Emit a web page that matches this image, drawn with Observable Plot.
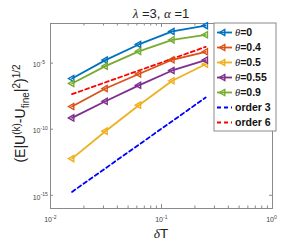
<!DOCTYPE html>
<html><head>
<meta charset="utf-8">
<script src="https://cdn.jsdelivr.net/npm/d3@7"></script>
<script src="https://cdn.jsdelivr.net/npm/@observablehq/plot@0.6"></script>
<style>body{margin:0;background:#fff;font-family:"Liberation Sans",Arial,sans-serif}</style>
</head><body><div id="chart"></div>
<script>
// ---- data ----
const dT = [1/64, 1/32, 1/16, 1/8, 1/4];
const theta0   = [6.9e-7, 1.7e-5, 2.6e-4, 2.5e-3, 6.8e-3];
const theta04  = [5.2e-9, 1.2e-7, 1.5e-6, 1.8e-5, 7.2e-5];
const theta05  = [6.0e-13, 7.1e-11, 6.6e-9, 4.6e-7, 8.3e-6];
const theta055 = [7.2e-10, 1.3e-8, 2.1e-7, 2.8e-6, 1.7e-5];
const theta09  = [2.9e-7, 5.9e-6, 7.8e-5, 5.8e-4, 1.4e-3];
const refDT = [1/64, 1/4];
const order3 = [1.8e-15, 2.5e-8];
const order6 = [4.5e-8, 1.7e-4];
const seriesNames = ["0", "0.4", "0.5", "0.55", "0.9"];
const refNames = ["order 3", "order 6"];
const xTicks = [0.01, 0.1, 1];
const xTickExp = ["-2", "-1", "0"];
const xMinor = [0.02,0.03,0.04,0.05,0.06,0.07,0.08,0.09,0.2,0.3,0.4,0.5,0.6,0.7,0.8,0.9];
const yTicks = [1e-15, 1e-10, 1e-5];
const yTickExp = ["-15", "-10", "-5"];

const colors = ["#0072BD", "#D95319", "#EDB120", "#7E2F8E", "#77AC30"];
const refColors = ["#0000FF", "#FF0000"];
const seriesVals = [theta0, theta04, theta05, theta055, theta09];

const rows = [];
seriesVals.forEach((vals, i) => vals.forEach((v, j) => rows.push({s: seriesNames[i], x: dT[j], y: v})));
const refRows = [];
[order3, order6].forEach((vals, i) => vals.forEach((v, j) => refRows.push({s: refNames[i], x: refDT[j], y: v})));

const W = 300, H = 245, mL = 50, mR = 28, mT = 23, mB = 37;
const FH = H - mT - mB, FW = W - mL - mR;
const axisColor = "#8a8a8a";
const R = 2.3;

const plot = Plot.plot({
  width: W, height: H,
  marginLeft: mL, marginRight: mR, marginTop: mT, marginBottom: mB,
  style: {fontFamily: "Liberation Sans, Arial, sans-serif", background: "#fff"},
  x: {type: "log", domain: [0.01, 1], axis: null},
  y: {type: "log", domain: [1e-16, 1e-2], axis: null},
  color: {domain: [...seriesNames, ...refNames], range: [...colors, ...refColors]},
  marks: [
    Plot.frame({stroke: axisColor, strokeWidth: 1}),
    // x ticks (inside, bottom and top)
    Plot.ruleX(xTicks, {x: d => d, insetTop: FH - 4, stroke: axisColor}),
    Plot.ruleX(xTicks, {x: d => d, insetBottom: FH - 4, stroke: axisColor}),
    Plot.ruleX(xMinor, {x: d => d, insetTop: FH - 2.5, stroke: axisColor}),
    Plot.ruleX(xMinor, {x: d => d, insetBottom: FH - 2.5, stroke: axisColor}),
    // y ticks (inside, left and right)
    Plot.ruleY(yTicks, {y: d => d, insetRight: FW - 3, stroke: axisColor}),
    Plot.ruleY(yTicks, {y: d => d, insetLeft: FW - 3, stroke: axisColor}),
    // tick labels
    Plot.text(xTicks, {x: d => d, frameAnchor: "bottom", dy: 13, dx: 1.5, text: () => "10", textAnchor: "end", fontSize: 7, fill: "#444"}),
    Plot.text(xTicks, {x: d => d, frameAnchor: "bottom", dy: 10, dx: 1.5, text: (d, i) => xTickExp[i], textAnchor: "start", fontSize: 5, fill: "#444"}),
    Plot.text(yTicks, {y: d => d, frameAnchor: "left", dx: -10, dy: 2, text: () => "10", textAnchor: "end", fontSize: 7, fill: "#444"}),
    Plot.text(yTicks, {y: d => d, frameAnchor: "left", dx: -10, dy: -1, text: (d, i) => yTickExp[i], textAnchor: "start", fontSize: 5, fill: "#444"}),
    // reference lines
    Plot.line(refRows, {x: "x", y: "y", z: "s", stroke: "s", strokeWidth: 1.8, strokeDasharray: "4,3"}),
    // series
    Plot.line(rows, {x: "x", y: "y", z: "s", stroke: "s", strokeWidth: 1.8}),
    Plot.dot(rows, {x: "x", y: "y", stroke: "s", symbol: "triangle", rotate: -90, r: R, strokeWidth: 1.4, fill: "none"})
  ]
});
document.getElementById("chart").append(plot);

const svg = d3.select(plot);
// Title
const title = svg.append("text").attr("x", mL + FW/2).attr("y", 18).attr("text-anchor", "middle")
  .attr("font-size", 13).attr("fill", "#222");
title.append("tspan").attr("font-family", "Liberation Serif, serif").attr("font-style", "italic").text("λ");
title.append("tspan").text(" =3, ");
title.append("tspan").attr("font-family", "Liberation Serif, serif").attr("font-style", "italic").text("α");
title.append("tspan").text(" =1");

// X label
const xl = svg.append("text").attr("x", mL + FW/2).attr("y", 238).attr("text-anchor", "middle")
  .attr("font-size", 13.5).attr("fill", "#222");
xl.append("tspan").attr("font-family", "Liberation Serif, serif").attr("font-style", "italic").text("δ");
xl.append("tspan").text("T");

// Y label
const yl = svg.append("text").attr("transform", `translate(25,${mT + FH/2 - 2}) rotate(-90)`)
  .attr("text-anchor", "middle").attr("font-size", 14).attr("fill", "#222");
yl.append("tspan").text("(E|U");
yl.append("tspan").attr("font-size", 10).attr("dy", -5.5).text("(k)");
yl.append("tspan").attr("dy", 5.5).text("-U");
yl.append("tspan").attr("font-size", 10).attr("dy", 3.5).text("fine");
yl.append("tspan").attr("dy", -3.5).text("|");
yl.append("tspan").attr("font-size", 10).attr("dy", -5.5).text("2");
yl.append("tspan").attr("dy", 5.5).text(")");
yl.append("tspan").attr("font-size", 10).attr("dy", -5.5).text("1/2");

// Legend
const lg = svg.append("g");
lg.append("rect").attr("x", 214).attr("y", 23).attr("width", 62).attr("height", 108)
  .attr("fill", "#fff").attr("stroke", axisColor);
const entries = [
  ...seriesNames.map((n, i) => ({label: n, color: colors[i], kind: "series"})),
  ...refNames.map((n, i) => ({label: n, color: refColors[i], kind: "ref"}))
];
entries.forEach((e, i) => {
  const y = 32.5 + i * 15;
  const line = lg.append("line").attr("x1", 217).attr("x2", 232).attr("y1", y).attr("y2", y)
    .attr("stroke", e.color).attr("stroke-width", 1.8);
  if (e.kind === "ref") line.attr("stroke-dasharray", "4,3");
  else {
    lg.append("path").attr("d", d3.symbol(d3.symbolTriangle, Math.PI * R * R)())
      .attr("transform", `translate(223,${y}) rotate(-90)`)
      .attr("fill", "none").attr("stroke", e.color).attr("stroke-width", 1.4);
  }
  const t = lg.append("text").attr("x", 235).attr("y", y + 3.7).attr("font-size", 10.5)
    .attr("text-anchor", "start").attr("font-weight", "bold").attr("fill", "#111");
  if (e.kind === "series") {
    t.append("tspan").attr("font-family", "Liberation Serif, serif").attr("font-style", "italic").attr("font-weight", "normal").text("θ");
    t.append("tspan").text("=" + e.label);
  } else t.text(e.label);
});
</script>
</body></html>
